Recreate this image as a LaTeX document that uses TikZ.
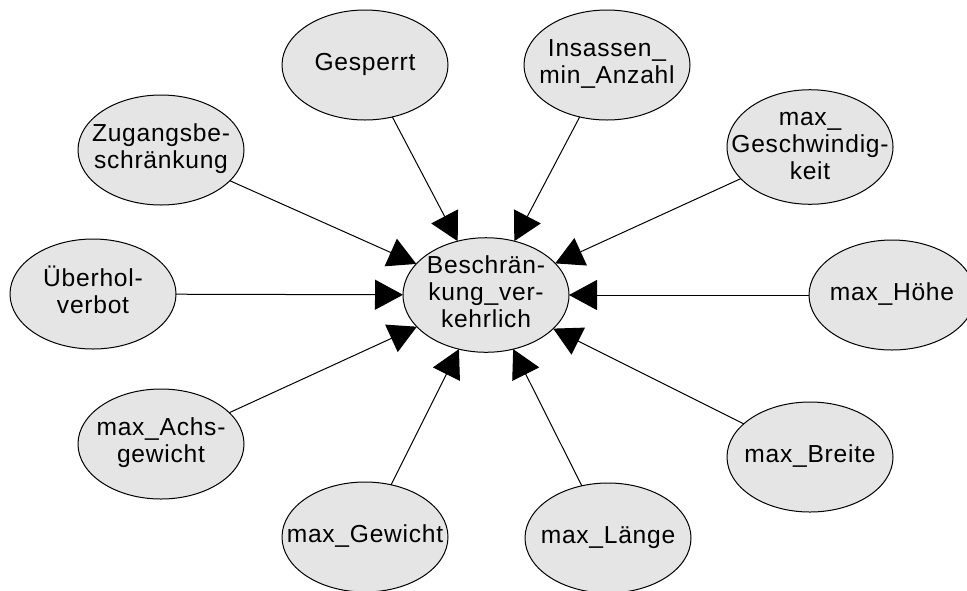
\documentclass[tikz,border=0pt]{standalone}
\usepackage{fontspec}
\setmainfont[LetterSpace=3]{Liberation Sans}
\usetikzlibrary{shapes.geometric,arrows.meta}
\definecolor{feldgrau}{RGB}{229,229,229}
% Text im Feld ohne Einfluss auf die Ellipsenbreite
\newcommand{\feldtext}[1]{\makebox[0pt]{\begin{tabular}{@{}c@{}}#1\end{tabular}}}
\tikzset{
	feld/.style={ellipse,draw,fill=feldgrau,line width=0.5pt,minimum width=83pt,minimum height=55pt,inner sep=0pt,outer sep=0pt},
	pfeil/.style={-{Triangle[length=14pt,width=15pt]},line width=0.5pt}
}
\begin{document}
\begin{tikzpicture}[x=0.5pt,y=-0.5pt,font=\fontsize{12.3}{13.5}\selectfont, line join=round]
	\useasboundingbox (0,0) rectangle (967,590);
	\node[feld] (bv) at (486,295) {\feldtext{Beschrän-\\kung\_ver-\\kehrlich}};
	\node[feld] (gesp) at (365,65) {\feldtext{Gesperrt}};
	\node[feld] (insa) at (607,65) {\feldtext{Insassen\_\\min\_Anzahl}};
	\node[feld] (zug) at (161,150) {\feldtext{Zugangsbe-\\schränkung}};
	\node[feld] (vmax) at (810,147) {\feldtext{max\_\\Geschwindig-\\keit}};
	\node[feld] (ueb) at (93,294) {\feldtext{Überhol-\\verbot}};
	\node[feld] (hoehe) at (892,295) {\feldtext{max\_Höhe}};
	\node[feld] (achs) at (161,444) {\feldtext{max\_Achs-\\gewicht}};
	\node[feld] (breite) at (810,457) {\feldtext{max\_Breite}};
	\node[feld] (gew) at (365,537) {\feldtext{max\_Gewicht}};
	\node[feld] (laenge) at (608,538) {\feldtext{max\_Länge}};
	\foreach \n in {gesp,insa,zug,vmax,ueb,hoehe,achs,breite,gew,laenge}{
		\draw[pfeil] (\n) -- (bv);}
\end{tikzpicture}
\end{document}
